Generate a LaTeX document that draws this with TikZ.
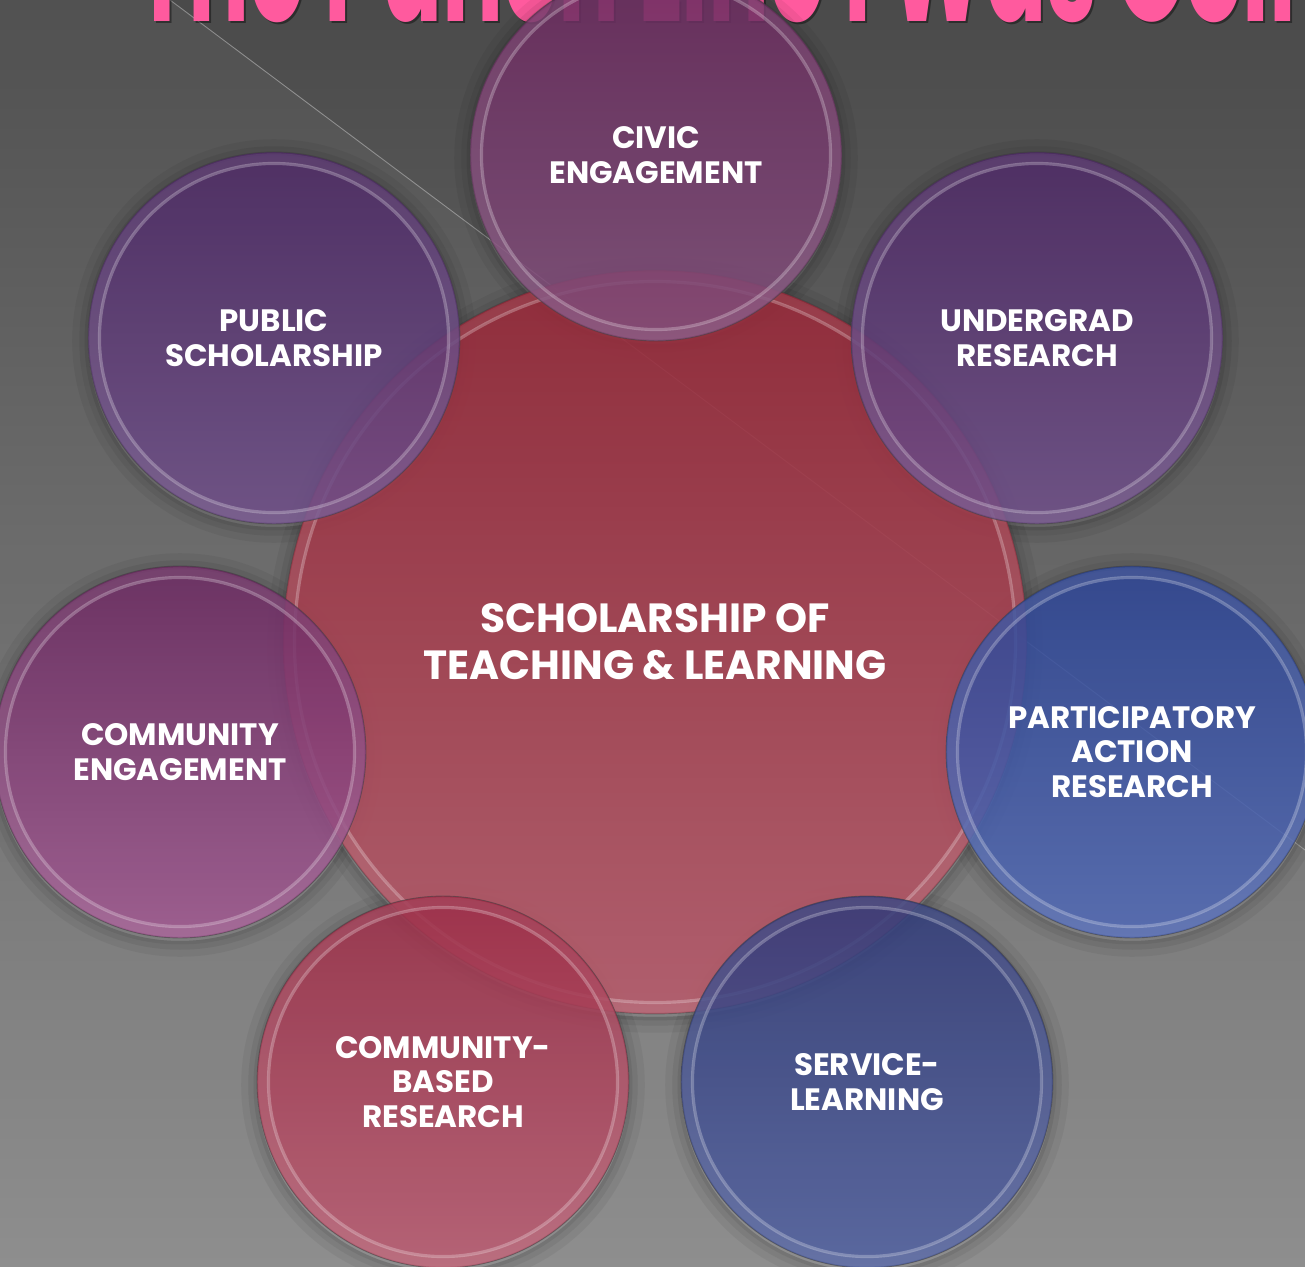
\documentclass[tikz,border=0pt]{standalone}
\usepackage{fontspec}
\setmainfont{Poppins}
\usepackage{graphicx}
\definecolor{bgtop}{HTML}{4A4A4A}
\definecolor{bgbot}{HTML}{8A8A8A}
\definecolor{titlepink}{HTML}{FF5A9E}
\definecolor{purT}{HTML}{4E2A66}
\definecolor{purB}{HTML}{70508A}
\definecolor{civT}{HTML}{6A2A5E}
\definecolor{civB}{HTML}{82507C}
\definecolor{ceT}{HTML}{6C2A62}
\definecolor{ceB}{HTML}{A25A92}
\definecolor{cenT}{HTML}{952838}
\definecolor{cenB}{HTML}{B65C6C}
\definecolor{cbT}{HTML}{9C2E48}
\definecolor{cbB}{HTML}{BC5C72}
\definecolor{slT}{HTML}{303A78}
\definecolor{slB}{HTML}{5262A2}
\definecolor{parT}{HTML}{2C4494}
\definecolor{parB}{HTML}{526AB6}
\tikzset{
  lbl/.style={text=white, align=center, font=\bfseries\fontsize{17.6}{19.8}\selectfont},
  bubble/.style={circle, minimum size=7.44cm, inner sep=0pt, draw=black!75, line width=0.5pt,
     fill opacity=0.86, draw opacity=0.55, text opacity=1, lbl},
  bigbubble/.style={circle, minimum size=14.88cm, inner sep=0pt, draw=black!75, line width=0.5pt,
     fill opacity=0.9, draw opacity=0.45, text opacity=1, text=white, align=center,
     font=\bfseries\fontsize{23.2}{26.7}\selectfont},
  ring/.style={white, opacity=0.26, line width=1.8pt},
  band/.style={white, opacity=0.07, line width=5.5pt},
  sh1/.style={black, opacity=0.07, line width=2pt},
  sh2/.style={black, opacity=0.06, line width=5pt},
  sh3/.style={black, opacity=0.05, line width=9pt}
}
\begin{document}
\begin{tikzpicture}[x=0.02cm, y=-0.02cm]
\useasboundingbox (0,0) rectangle (1305,1267);
\begin{scope}
\clip (0,0) rectangle (1305,1267);
% background
\shade[top color=bgtop, bottom color=bgbot] (0,0) rectangle (1305,1267);
\fill[white, opacity=0.04] (170,0) -- (1305,850) -- (1305,1267) -- (0,1267) -- (0,0) -- cycle;
\coordinate (lnA) at (170,0);
\coordinate (lnB) at (1305,850);
\draw[white, opacity=0.35, line width=0.5pt] (lnA) -- (lnB);
% title (cut at the top)
\node[anchor=base west, inner sep=0pt, text=black, opacity=0.4] at (137,24)
  {\resizebox{23.9cm}{2.6cm}{\fontseries{sb}\selectfont The Punch Line I Was Goin}};
\node[anchor=base west, inner sep=0pt, text=titlepink] (title) at (135,22)
  {\resizebox{23.9cm}{2.6cm}{\fontseries{sb}\selectfont The Punch Line I Was Goin}};
% soft shadows
\foreach \p/\r in {{655,645}/7.44, {656,158}/3.72, {274,341}/3.72, {1037,341}/3.72, {180,755}/3.72,
                   {1132,755}/3.72, {443,1085}/3.72, {867,1085}/3.72}{
  \draw[sh1] (\p) circle (\r cm + 1pt);
  \draw[sh2] (\p) circle (\r cm + 2.5pt);
  \draw[sh3] (\p) circle (\r cm + 4.5pt);
}
% center
\node[bigbubble, top color=cenT, bottom color=cenB] (sotl) at (655,642)
  {SCHOLARSHIP OF\\TEACHING \& LEARNING};
\draw[band] (sotl.center) circle (7.44cm - 3.5pt);
\draw[ring] (sotl.center) circle (7.44cm - 6.5pt);
% outer bubbles
\node[bubble, top color=civT, bottom color=civB] (civic) at (656,155) {CIVIC\\ENGAGEMENT};
\node[bubble, top color=purT, bottom color=purB] (public) at (274,338) {PUBLIC\\SCHOLARSHIP};
\node[bubble, top color=purT, bottom color=purB] (ugrad) at (1037,338) {UNDERGRAD\\RESEARCH};
\node[bubble, top color=ceT, bottom color=ceB] (ceng) at (180,752) {COMMUNITY\\ENGAGEMENT};
\node[bubble, top color=parT, bottom color=parB] (par) at (1132,752) {PARTICIPATORY\\ACTION\\RESEARCH};
\node[bubble, top color=cbT, bottom color=cbB] (cbr) at (443,1082) {COMMUNITY-\\BASED\\RESEARCH};
\node[bubble, top color=slT, bottom color=slB] (sl) at (867,1082) {SERVICE-\\LEARNING};
\foreach \n in {civic, public, ugrad, ceng, par, cbr, sl}{
  \draw[band] (\n.center) circle (3.72cm - 3.5pt);
  \draw[ring] (\n.center) circle (3.72cm - 6.5pt);
}
\end{scope}
\end{tikzpicture}
\end{document}
